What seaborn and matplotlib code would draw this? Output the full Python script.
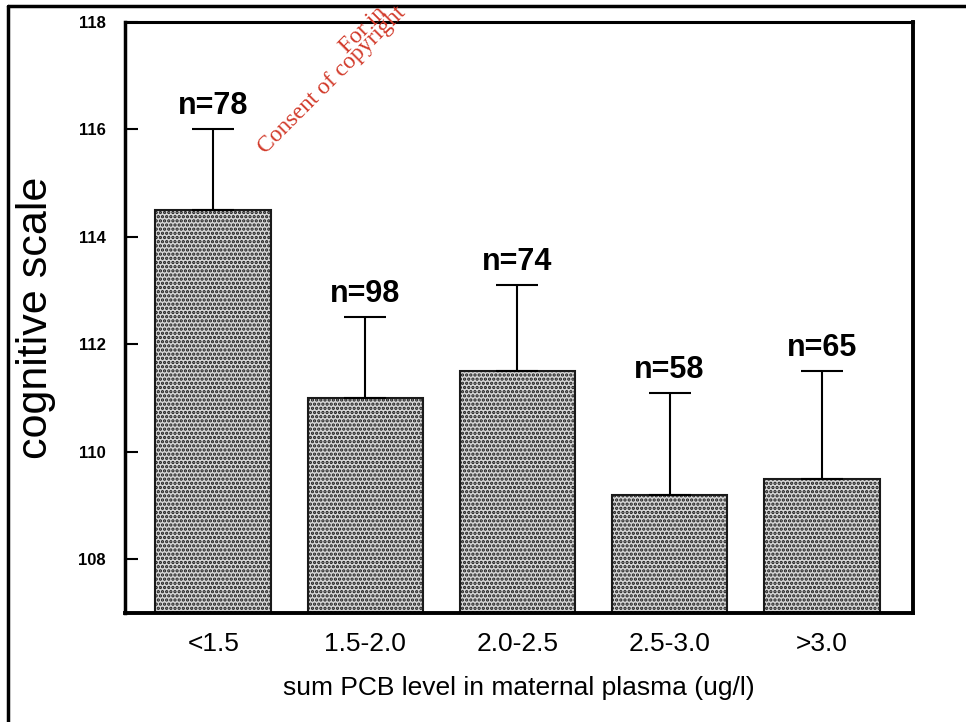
import matplotlib
matplotlib.use("Agg")
import matplotlib.pyplot as plt
import seaborn as sns
import pandas as pd
import numpy as np
from matplotlib.lines import Line2D

categories = ["<1.5", "1.5-2.0", "2.0-2.5", "2.5-3.0", ">3.0"]
means = [114.5, 111.0, 111.5, 109.2, 109.5]
upper = [116.0, 112.5, 113.1, 111.1, 111.5]
n_labels = ["n=78", "n=98", "n=74", "n=58", "n=65"]
yticks = [108, 110, 112, 114, 116, 118]

sns.set_theme(style="white")
plt.rcParams["font.family"] = ["Liberation Sans", "DejaVu Sans"]
plt.rcParams["hatch.linewidth"] = 1.6
plt.rcParams["text.color"] = "black"
plt.rcParams["axes.labelcolor"] = "black"
plt.rcParams["xtick.color"] = "black"
plt.rcParams["ytick.color"] = "black"

df = pd.DataFrame({"group": categories, "score": means})

fig = plt.figure(figsize=(9.66, 7.22), dpi=100)
ax = fig.add_axes([0.1294, 0.151, 0.8157, 0.8185])

sns.barplot(data=df, x="group", y="score", order=categories, errorbar=None,
            color="#d6d6d6", width=0.76, ax=ax, saturation=1)
for p in ax.patches:
    p.set_edgecolor("#1a1a1a")
    p.set_linewidth(1.5)
    p.set_hatch("....")

xs = np.arange(len(categories))
err_hi = np.array(upper) - np.array(means)
ax.errorbar(xs, means, yerr=[np.zeros(len(xs)), err_hi], fmt="none",
            ecolor="black", elinewidth=1.5, capsize=15, capthick=1.5)

for x, u, lab in zip(xs, upper, n_labels):
    ax.text(x, u + 0.15, lab, ha="center", va="bottom", fontsize=22,
            fontweight="bold", color="black")

ax.set_ylim(107, 118)
ax.set_xlim(-0.58, 4.6)
ax.set_yticks(yticks)
ax.set_yticklabels([str(t) for t in yticks], fontsize=12, fontweight="bold")
ax.set_xticks(xs)
ax.set_xticklabels(categories, fontsize=19)
ax.tick_params(axis="y", direction="in", length=9, width=1.5, left=True, pad=14)
ax.tick_params(axis="x", direction="in", length=7, width=1.2, bottom=True, pad=14)

for s in ax.spines.values():
    s.set_visible(True)
    s.set_color("black")
    s.set_linewidth(2.2)
ax.spines["bottom"].set_linewidth(2.8)
ax.spines["left"].set_linewidth(2.5)
ax.spines["right"].set_linewidth(2.8)

ax.set_ylabel("cognitive scale", fontsize=31, labelpad=16)
ax.set_xlabel("sum PCB level in maternal plasma (ug/l)", fontsize=19, labelpad=14)

# outer frame of the scanned page
fig.add_artist(Line2D([8/966, 8/966], [0, 1 - 6/722], transform=fig.transFigure,
                      color="black", lw=2.5))
fig.add_artist(Line2D([8/966, 1], [1 - 6/722, 1 - 6/722], transform=fig.transFigure,
                      color="black", lw=2.5))

# watermark
fig.text(336/966, 1 - 58/722, "For in", rotation=45, color="#d23a2a",
         fontsize=17, family="Liberation Serif", ha="left", va="bottom")
fig.text(254/966, 1 - 158/722, "Consent of copyright", rotation=45, color="#d23a2a",
         fontsize=17, family="Liberation Serif", ha="left", va="bottom")

fig.savefig("out.png", dpi=100)
